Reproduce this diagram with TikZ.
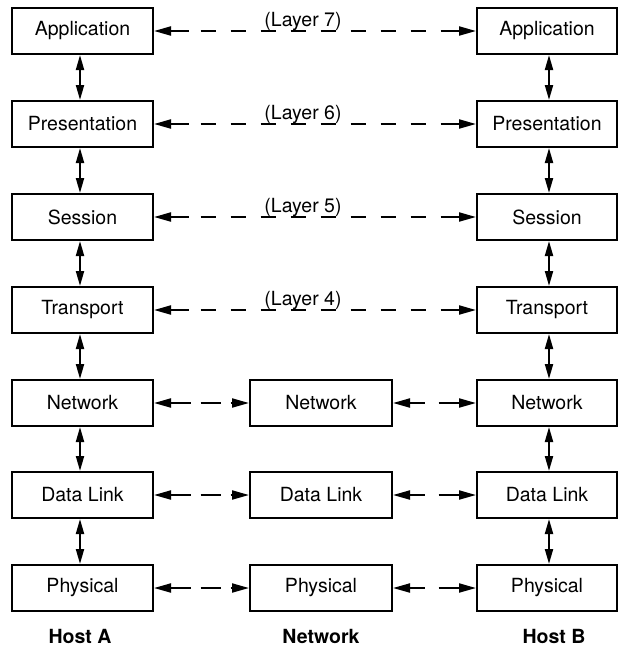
\documentclass[tikz,border=0pt]{standalone}
\usepackage{fontspec}
\setmainfont{TeX Gyre Heros}
\usetikzlibrary{arrows.meta}
\begin{document}
\begin{tikzpicture}[x=1pt,y=-1pt,
  layerbox/.style={draw,line width=2pt,minimum height=46pt,inner sep=0pt,
    font=\fontsize{19.5}{22}\selectfont},
  colA/.style={layerbox,minimum width=141pt},
  colN/.style={layerbox,minimum width=142pt},
  colB/.style={layerbox,minimum width=140pt},
  tipv/.tip={Triangle[length=15pt,width=8pt]},
  tiph/.tip={Triangle[length=17pt,width=9pt]},
  vert/.style={line width=2pt,tipv-tipv},
  hlong/.style={line width=2pt,tiph-tiph,
    dash pattern=on 18pt off 12pt on 15pt off 15pt on 15pt off 15pt on 15pt off 15pt on 15pt off 15pt on 15pt off 15pt on 15pt off 15pt on 15pt off 15pt on 15pt off 15pt on 40pt off 1pt},
  hshortL/.style={line width=2pt,tiph-tiph,
    dash pattern=on 20pt off 10pt on 20pt off 10pt on 40pt off 1pt},
  hshortR/.style={line width=2pt,tiph-tiph,
    dash pattern=on 15pt off 14pt on 40pt off 1pt},
  lbl/.style={inner sep=0pt,anchor=base,font=\fontsize{19.5}{22}\selectfont},
  foot/.style={inner sep=0pt,anchor=base,font=\fontsize{19.5}{22}\selectfont\bfseries}
]
\useasboundingbox (0,0) rectangle (618,648);

% Host A column
\node[colA] (a7) at (82.5,31) {Application};
\node[colA] (a6) at (82.5,124) {Presentation};
\node[colA] (a5) at (82.5,217) {Session};
\node[colA] (a4) at (82.5,310) {Transport};
\node[colA] (a3) at (82.5,403) {Network};
\node[colA] (a2) at (82.5,495) {Data Link};
\node[colA] (a1) at (82.5,588) {Physical};

% Host B column
\node[colB] (b7) at (547,31) {Application};
\node[colB] (b6) at (547,124) {Presentation};
\node[colB] (b5) at (547,217) {Session};
\node[colB] (b4) at (547,310) {Transport};
\node[colB] (b3) at (547,403) {Network};
\node[colB] (b2) at (547,495) {Data Link};
\node[colB] (b1) at (547,588) {Physical};

% Network column
\node[colN] (n3) at (321,403) {Network};
\node[colN] (n2) at (321,495) {Data Link};
\node[colN] (n1) at (321,588) {Physical};

% vertical arrows
\foreach \u/\l in {7/6,6/5,5/4,4/3,3/2,2/1}{
  \draw[vert] ([xshift=-2.5pt]a\u.south) -- ([xshift=-2.5pt]a\l.north);
  \draw[vert] ([xshift=2pt]b\u.south) -- ([xshift=2pt]b\l.north);
}

% peer layers
\foreach \k in {7,6,5,4}{
  \draw[hlong] (a\k.east) -- (b\k.west);
}
\foreach \k in {3,2,1}{
  \draw[hshortL] (a\k.east) -- (n\k.west);
  \draw[hshortR] (n\k.east) -- (b\k.west);
}

% layer labels
\node[lbl] (l7) at (303,26) {(Layer 7)};
\node[lbl] (l6) at (303,119) {(Layer 6)};
\node[lbl] (l5) at (303,212) {(Layer 5)};
\node[lbl] (l4) at (303,305) {(Layer 4)};

% footer labels
\node[foot] (ha) at (80,643) {Host A};
\node[foot] (hn) at (321,643) {Network};
\node[foot] (hb) at (554,643) {Host B};
\end{tikzpicture}
\end{document}
